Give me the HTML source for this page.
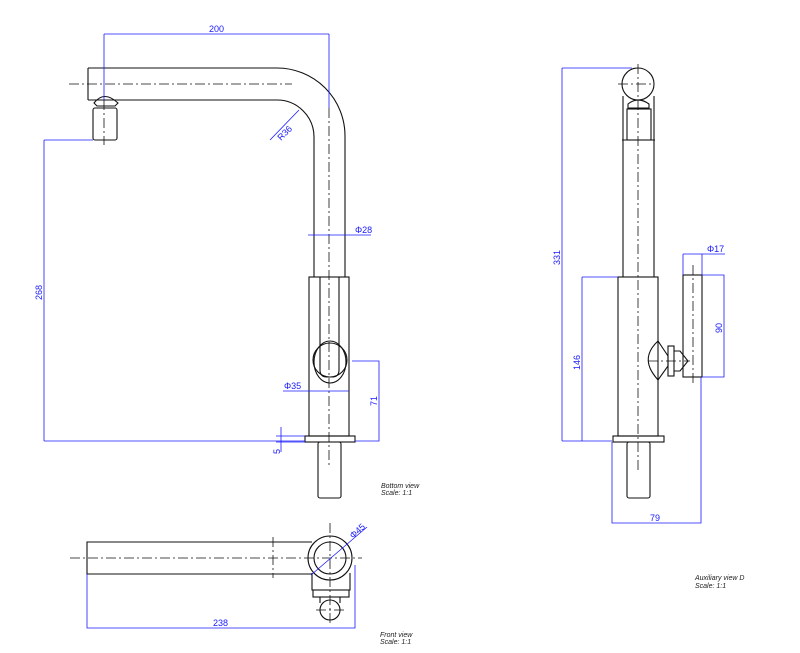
<!DOCTYPE html>
<html><head><style>body{margin:0;background:#fff}svg{display:block}</style></head><body>
<svg width="800" height="653" viewBox="0 0 800 653" xmlns="http://www.w3.org/2000/svg" font-family="Liberation Sans, sans-serif">
<g fill="none" stroke="#111" stroke-width="1.1">
<!-- side view spout -->
<path d="M88 68 H277 A68 68 0 0 1 345 136 V277"/>
<path d="M88 100 H277 A37 37 0 0 1 314 137 V277"/>
<path d="M88 68 V100"/>
<path d="M94 103 Q104 90 118 103 L115 106 H97 Z"/>
<rect x="93" y="108" width="24" height="32" rx="2"/>
<rect x="309" y="277" width="40" height="159"/>
<path d="M320 277 V370 Q320 377 327 377 H332 Q339 377 339 370 V277"/>
<circle cx="330" cy="360" r="17"/>
<ellipse cx="330" cy="362" rx="16" ry="21"/>
<rect x="305" y="436" width="50" height="6"/>
<rect x="318" y="442" width="23" height="56" rx="2"/>
<g stroke-dasharray="10 3 2 3" stroke-width="0.8">
<path d="M69 84 H292"/><path d="M329 108 V465"/><path d="M104 100 V145"/>
</g>
<!-- aux view -->
<circle cx="638" cy="84" r="16"/>
<path d="M623 96 V277 M654 96 V277"/>
<path d="M628 104 Q638 96 649 104 V108 H628 Z"/>
<rect x="627" y="109" width="24" height="31"/>
<path d="M622 140 H655"/>
<rect x="618" y="277" width="40" height="159"/>
<rect x="613" y="436" width="51" height="6"/>
<rect x="627" y="442" width="23" height="56" rx="2"/>
<rect x="683" y="275" width="19" height="102"/>
<path d="M658 341 Q644 354 650 368 Q652 373 658 380 L668 366 V356 Z"/>
<rect x="668" y="346" width="6" height="30"/>
<path d="M674 351 H680 L688 361 L680 371 H674"/>
<g stroke-dasharray="10 3 2 3" stroke-width="0.8">
<path d="M618 84 H654"/><path d="M638 64 V470"/><path d="M693 265 V386"/><path d="M648 361 H690"/>
</g>
<!-- front view -->
<path d="M312 542 H87 V574 H312"/>
<circle cx="330" cy="558" r="22"/>
<circle cx="330" cy="558" r="16"/>
<path d="M312 573 V590 H350 V573"/>
<rect x="313" y="590" width="36" height="7"/>
<path d="M320 597 V603 M340 597 V603"/>
<circle cx="330" cy="610" r="10"/>
<g stroke-dasharray="10 3 2 3" stroke-width="0.8">
<path d="M70 558 H362"/><path d="M330 523 V625"/><path d="M273 537 V578"/><path d="M316 610 H344"/>
</g>
</g>
<!-- dimensions -->
<g fill="none" stroke="#1a1aff" stroke-width="0.8">
<path d="M104 34 H329 M104 34 V100 M329 34 V108"/>
<path d="M308 235 H371"/>
<path d="M299 110 L270 140"/>
<path d="M44 140 V441 M44 140 H93 M44 441 H305"/>
<path d="M283 391 H349"/>
<path d="M352 361 H379 V441 H355"/>
<path d="M281 427 V452 M276 436 H305 M276 442 H305"/>
<path d="M562 68 V441 M562 68 H632 M562 441 H612"/>
<path d="M582 277 V441 M582 277 H618"/>
<path d="M683 254 H725 M683 254 V275 M702 254 V275"/>
<path d="M702 275 H724 V377 H702"/>
<path d="M612 442 V523 H701 V377"/>
<path d="M87 574 V628 H355 V565"/>
<path d="M311 575 L367 527"/>
</g>
<g fill="#1a1aff" font-size="9">
<text x="209" y="32">200</text>
<text x="355" y="233">Φ28</text>
<text x="284" y="389">Φ35</text>
<text x="0" y="0" transform="translate(281,141) rotate(-45)">R36</text>
<text x="0" y="0" transform="translate(42,300) rotate(-90)">268</text>
<text x="0" y="0" transform="translate(377,406) rotate(-90)">71</text>
<text x="0" y="0" transform="translate(280,454) rotate(-90)">5</text>
<text x="0" y="0" transform="translate(560,265) rotate(-90)">331</text>
<text x="0" y="0" transform="translate(580,370) rotate(-90)">146</text>
<text x="0" y="0" transform="translate(722,333) rotate(-90)">90</text>
<text x="707" y="252">Φ17</text>
<text x="650" y="521">79</text>
<text x="213" y="626">238</text>
<text x="0" y="0" transform="translate(353,539) rotate(-42)">Φ45</text>
</g>
<g fill="#222" font-size="7" font-style="italic">
<text x="381" y="488">Bottom view</text><text x="381" y="495">Scale:  1:1</text>
<text x="380" y="637">Front view</text><text x="380" y="644">Scale:  1:1</text>
<text x="695" y="580">Auxiliary view D</text><text x="695" y="588">Scale:  1:1</text>
</g>
</svg>
</body></html>
